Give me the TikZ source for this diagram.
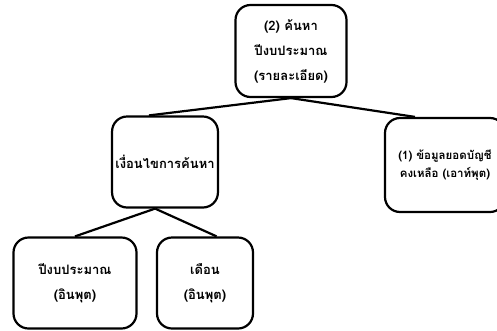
\documentclass[tikz,border=0pt]{standalone}
\usepackage{fontspec}
\usepackage{tikz}
\usetikzlibrary{positioning}
\newfontfamily\thaifont[Script=Thai]{Loma}

\begin{document}
\begin{tikzpicture}[
  x=1pt, y=-1pt,
  menubox/.style={draw, line width=2.2pt, rounded corners=15pt, align=center,
                  font=\thaifont\bfseries\fontsize{13}{25}\selectfont},
  link/.style={line width=2.2pt},
]
  \useasboundingbox (0,0) rectangle (497,330);

  \node[menubox, minimum width=111pt, minimum height=92pt] (search) at (291,51)
    {(2) ค้นหา\\ปีงบประมาณ\\(รายละเอียด)};
  \node[menubox, minimum width=104pt, minimum height=91pt] (cond) at (165,162)
    {เงื่อนไขการค้นหา};
  \node[menubox, minimum width=120pt, minimum height=94pt, inner sep=1pt,
        font=\thaifont\bfseries\fontsize{11.5}{18}\selectfont] (balance) at (445,165)
    {(1) ข้อมูลยอดบัญชี\\คงเหลือ (เอาท์พุต)};
  \node[menubox, minimum width=123pt, minimum height=91pt] (year) at (75,283)
    {ปีงบประมาณ\\(อินพุต)};
  \node[menubox, minimum width=96pt, minimum height=91pt] (month) at (205,283)
    {เดือน\\(อินพุต)};

  \draw[link] (search.south) -- (cond.109);
  \draw[link] (search.south) -- (balance.122);
  \draw[link] (cond.258) -- (year.north);
  \draw[link] (cond.258) -- (month.76);
\end{tikzpicture}
\end{document}
